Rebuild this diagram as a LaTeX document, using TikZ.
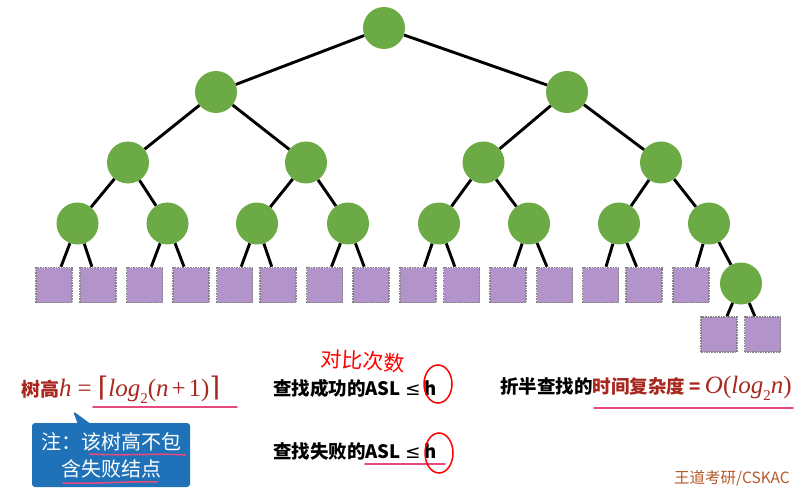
\documentclass[tikz,border=0pt]{standalone}
\usepackage{fontspec}
\newfontfamily\cjk{Noto Sans CJK SC}
\newfontfamily\dejavu{DejaVu Sans}
\newfontfamily\mserif{Liberation Serif}
\newfontfamily\dvserif{DejaVu Serif}
\usetikzlibrary{shapes.callouts}
\definecolor{treegreen}{HTML}{6CAA46}
\definecolor{leafpurple}{HTML}{B294CB}
\definecolor{leafborder}{HTML}{858585}
\definecolor{darkred}{HTML}{A8271E}
\definecolor{pinkline}{HTML}{E44A7E}
\definecolor{noteblue}{HTML}{1F72B8}
\definecolor{markbrown}{HTML}{B55A2B}
\newcommand{\myit}[1]{{\mserif\mdseries\itshape #1}}
\newcommand{\myup}[1]{{\mserif\mdseries\upshape #1}}
\newcommand{\mysub}[1]{\raisebox{-0.28em}{\mserif\mdseries\upshape\fontsize{15}{15}\selectfont #1}}
\tikzset{
  inode/.style={circle, fill=treegreen, minimum size=42pt, inner sep=0pt},
  leaf/.style={rectangle, fill=leafpurple, draw=leafborder, densely dotted, line width=1.6pt, minimum width=36pt, minimum height=35pt, inner sep=0pt},
  edge/.style={line width=2.9pt, black},
  txt/.style={anchor=west, inner sep=0pt, font=\cjk\fontsize{18.5}{22}\selectfont\bfseries},
  uline/.style={pinkline, line width=1.6pt, line cap=round},
  hcirc/.style={red, line width=1.5pt}
}
\begin{document}
\begin{tikzpicture}[x=1pt,y=-1pt]
\useasboundingbox (0,0) rectangle (802,494);
% internal nodes
\node[inode] (r) at (384,28) {};
\node[inode] (a) at (216,92) {};
\node[inode] (b) at (567,92) {};
\node[inode] (c1) at (128,162.5) {};
\node[inode] (c2) at (306,162.5) {};
\node[inode] (c3) at (483.5,162.5) {};
\node[inode] (c4) at (661,162.5) {};
\node[inode] (d1) at (77.5,223.5) {};
\node[inode] (d2) at (167.5,223.5) {};
\node[inode] (d3) at (257,223.5) {};
\node[inode] (d4) at (348,223.5) {};
\node[inode] (d5) at (439,223.5) {};
\node[inode] (d6) at (529,223.5) {};
\node[inode] (d7) at (619,223.5) {};
\node[inode] (d8) at (709,223.5) {};
\node[inode] (e) at (741,283.5) {};
% leaves
\foreach \n/\x in {1/54,2/98,3/144.5,4/191,5/234.5,6/278,7/324.5,8/371,9/418,10/461.5,11/508,12/554.5,13/600.5,14/644,15/691}
  \node[leaf] (s\n) at (\x,285) {};
\node[leaf] (s16) at (719,334.5) {};
\node[leaf] (s17) at (762.5,334.5) {};
% edges
\draw[edge] (r) -- (a); \draw[edge] (r) -- (b);
\draw[edge] (a) -- (c1); \draw[edge] (a) -- (c2);
\draw[edge] (b) -- (c3); \draw[edge] (b) -- (c4);
\draw[edge] (c1) -- (d1); \draw[edge] (c1) -- (d2);
\draw[edge] (c2) -- (d3); \draw[edge] (c2) -- (d4);
\draw[edge] (c3) -- (d5); \draw[edge] (c3) -- (d6);
\draw[edge] (c4) -- (d7); \draw[edge] (c4) -- (d8);
\draw[edge] (d1) -- (s1); \draw[edge] (d1) -- (s2);
\draw[edge] (d2) -- (s3); \draw[edge] (d2) -- (s4);
\draw[edge] (d3) -- (s5); \draw[edge] (d3) -- (s6);
\draw[edge] (d4) -- (s7); \draw[edge] (d4) -- (s8);
\draw[edge] (d5) -- (s9); \draw[edge] (d5) -- (s10);
\draw[edge] (d6) -- (s11); \draw[edge] (d6) -- (s12);
\draw[edge] (d7) -- (s13); \draw[edge] (d7) -- (s14);
\draw[edge] (d8) -- (s15); \draw[edge] (d8) -- (e);
\draw[edge] (e) -- (s16); \draw[edge] (e) -- (s17);
% formulas
\node[txt, text=darkred, font=\cjk\fontsize{19}{22}\selectfont\bfseries] (hf) at (21,390)
  {树高\fontsize{25}{26}\selectfont\myit{h}\hspace{6pt}\myup{=}\hspace{6pt}{\dvserif\mdseries\fontsize{27}{27}\selectfont ⌈}\myit{log}\mysub{2}\myup{(}\myit{n}\hspace{3pt}\myup{+}\hspace{3pt}\myup{1)}{\dvserif\mdseries\fontsize{27}{27}\selectfont ⌉}};
\draw[uline] (93,407) -- (237,407);
\node[rectangle callout, fill=noteblue, rounded corners=3pt, minimum width=158pt, minimum height=64pt,
  callout absolute pointer={(73,411)}, callout pointer width=12pt, align=center, text=white, inner sep=0pt,
  font=\cjk\fontsize{20}{27}\selectfont] (note) at (111,455) {注：该树高不包\\含失败结点};
\draw[uline] (90,454) .. controls (130,456) and (160,453) .. (185,455);
\draw[uline] (63,483) .. controls (100,484) and (130,481) .. (157,482);
\node[txt] (succ) at (273,388) {查找成功的ASL {\dejavu\mdseries ≤} h};
\node[txt] (fail) at (273,451) {查找失败的ASL {\dejavu\mdseries ≤} h};
\draw[uline] (365,464) -- (445,464);
\node[red, rotate=-3, inner sep=0pt, font=\cjk\fontsize{21}{24}\selectfont] (cmp) at (363,361) {对比次数};
\draw[hcirc] (438,384) ellipse [x radius=14, y radius=19];
\draw[hcirc] (439,453) ellipse [x radius=14, y radius=20];
\node[txt] (bs) at (500,388) {折半查找的\textcolor{darkred}{时间复杂度 = {\fontsize{25}{26}\selectfont\myit{O}\myup{(}\myit{log}\mysub{2}\myit{n}\myup{)}}}};
\draw[uline] (594,408) -- (793,408);
\node[anchor=west, inner sep=0pt, text=markbrown, font=\cjk\fontsize{15.5}{18}\selectfont] (wm) at (674,478) {王道考研/CSKAC};
\end{tikzpicture}
\end{document}
